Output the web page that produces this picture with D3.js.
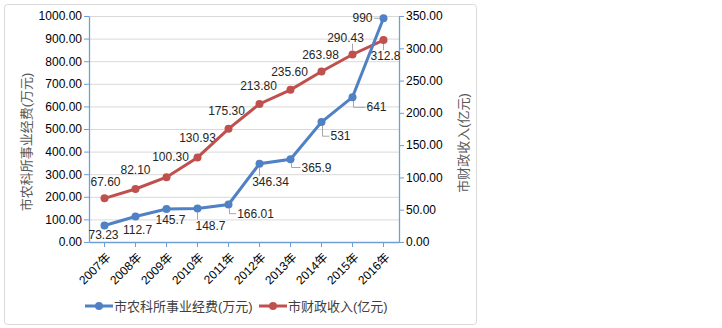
<!DOCTYPE html>
<html>
<head>
<meta charset="utf-8">
<script src="https://cdn.jsdelivr.net/npm/d3@7"></script>
<style>
  body { margin: 0; background: #fff; }
  text { font-family: "Liberation Sans", Arial, "Noto Sans CJK SC", sans-serif; }
</style>
</head>
<body>
<div id="chart"></div>
<script>
// data
const years = ["2007年","2008年","2009年","2010年","2011年","2012年","2013年","2014年","2015年","2016年"]
const funding = [73.23, 112.7, 145.7, 148.7, 166.01, 346.34, 365.9, 531, 641, 990]
const fundingLabels = ["73.23","112.7","145.7","148.7","166.01","346.34","365.9","531","641","990"]
const revenue = [67.60, 82.10, 100.30, 130.93, 175.30, 213.80, 235.60, 263.98, 290.43, 312.8]
const revenueLabels = ["67.60","82.10","100.30","130.93","175.30","213.80","235.60","263.98","290.43","312.8"]
const leftTicks = [0,100,200,300,400,500,600,700,800,900,1000]
const rightTicks = [0,50,100,150,200,250,300,350]

// label placement (offset of label centre from the point, and whether a leader line is drawn)
const fundingLabelOff = [[-1,9,0],[2,13,0],[4,11,0],[13,17,1],[27,9,1],[11,18,1],[26,8,1],[19,14,1],[24,10,1],[-21,0,1]]
const revenueLabelOff = [[1,-17,0],[0,-19,0],[4,-20,0],[0,-20,0],[-2,-18,0],[-1,-18,0],[-1,-18,0],[-1,-17,0],[-7,-17,1],[2,16,1]]

const W = 722, H = 328
const margin = { top: 16, left: 89 }
const width = 310, height = 226
const blue = "#4f81c4", red = "#c0504d", axisCol = "#6f9fd6"

let svg = d3.select("#chart").append("svg")
    .attr("width", W).attr("height", H)

// chart frame
svg.append("rect")
    .attr("x", 4.5).attr("y", 4.5)
    .attr("width", 472).attr("height", 320)
    .attr("rx", 3)
    .attr("fill", "#fff").attr("stroke", "#d9d9d9")

let g = svg.append("g").attr("transform", `translate(${margin.left},${margin.top})`)

let x = d3.scaleBand().domain(years).range([0, width]).padding(0)
let yL = d3.scaleLinear().domain([0, 1000]).range([height, 0])
let yR = d3.scaleLinear().domain([0, 350]).range([height, 0])
let cx = d => x(d) + x.bandwidth() / 2

// gridlines
g.append("g").selectAll("line").data(leftTicks.slice(1)).join("line")
    .attr("x1", 0).attr("x2", width)
    .attr("y1", d => yL(d) + 0.5).attr("y2", d => yL(d) + 0.5)
    .attr("stroke", "#d9d9d9")

let styleAxis = ax => ax
    .call(a => a.select(".domain").attr("stroke", axisCol).attr("stroke-width", 1.3))
    .call(a => a.selectAll(".tick line").attr("stroke", axisCol))
    .call(a => a.selectAll(".tick text").attr("fill", "#000").attr("font-size", 12))

g.append("g")
    .call(d3.axisLeft(yL).tickValues(leftTicks).tickFormat(d3.format(".2f")).tickSize(5).tickSizeOuter(0).tickPadding(2))
    .call(styleAxis)

g.append("g")
    .attr("transform", `translate(${width},0)`)
    .call(d3.axisRight(yR).tickValues(rightTicks).tickFormat(d3.format(".2f")).tickSize(5).tickSizeOuter(0).tickPadding(2))
    .call(styleAxis)

let xa = g.append("g")
    .attr("transform", `translate(0,${height})`)
    .call(d3.axisBottom(x).tickSize(5).tickSizeOuter(0))
    .call(styleAxis)
xa.selectAll(".tick text")
    .attr("text-anchor", "end")
    .attr("x", 0).attr("y", 0).attr("dy", "0.35em")
    .attr("transform", "translate(4,13) rotate(-45)")

// axis titles
svg.append("text")
    .attr("transform", "translate(31,142) rotate(-90)")
    .attr("text-anchor", "middle")
    .attr("font-size", 13).attr("fill", "#595959")
    .text("市农科所事业经费(万元)")
svg.append("text")
    .attr("transform", "translate(468,143) rotate(-90)")
    .attr("text-anchor", "middle")
    .attr("font-size", 13).attr("fill", "#595959")
    .text("市财政收入(亿元)")

// series
function drawSeries(values, labels, offs, y, color) {
    let pts = values.map((v, i) => ({ x: cx(years[i]), y: y(v), label: labels[i], off: offs[i] }))
    let lbl = g.append("g")
    pts.forEach(p => {
        let t = lbl.append("text")
            .attr("x", p.x + p.off[0]).attr("y", p.y + p.off[1])
            .attr("dy", "0.35em")
            .attr("text-anchor", "middle")
            .attr("font-size", 12).attr("fill", "#262626")
            .text(p.label)
        if (p.off[2]) {
            let b = t.node().getBBox()
            let nx = Math.max(b.x - 1, Math.min(p.x, b.x + b.width + 1))
            let ny = Math.max(b.y + 1, Math.min(p.y, b.y + b.height - 1))
            let pathPts = []
            if (nx === b.x - 1) {
                // label to the right: drop to label centre then go across
                let my = b.y + b.height / 2
                pathPts = [[p.x + 1, p.y + 4], [p.x + 1, my], [nx, my]]
            } else {
                let dx = nx - p.x, dy = ny - p.y, len = Math.hypot(dx, dy)
                pathPts = [[p.x + dx / len * 4, p.y + dy / len * 4], [nx, ny]]
            }
            lbl.append("path")
                .attr("d", d3.line()(pathPts))
                .attr("fill", "none").attr("stroke", "#a6a6a6").attr("stroke-width", 1)
        }
    })
    g.append("path")
        .datum(pts)
        .attr("d", d3.line().x(d => d.x).y(d => d.y))
        .attr("fill", "none").attr("stroke", color).attr("stroke-width", 3)
    g.append("g").selectAll("circle").data(pts).join("circle")
        .attr("cx", d => d.x).attr("cy", d => d.y).attr("r", 4)
        .attr("fill", color)
}
drawSeries(revenue, revenueLabels, revenueLabelOff, yR, red)
drawSeries(funding, fundingLabels, fundingLabelOff, yL, blue)

// legend
let legend = svg.append("g").attr("transform", "translate(85,306)")
let items = [["市农科所事业经费(万元)", blue, 0], ["市财政收入(亿元)", red, 174]]
items.forEach(([name, color, ox]) => {
    let it = legend.append("g").attr("transform", `translate(${ox},0)`)
    it.append("line").attr("x1", 0).attr("x2", 28).attr("stroke", color).attr("stroke-width", 3)
    it.append("circle").attr("cx", 14).attr("r", 4).attr("fill", color)
    it.append("text").attr("x", 29).attr("dy", "0.35em")
        .attr("font-size", 13).attr("fill", "#404040")
        .text(name)
})
</script>
</body>
</html>
